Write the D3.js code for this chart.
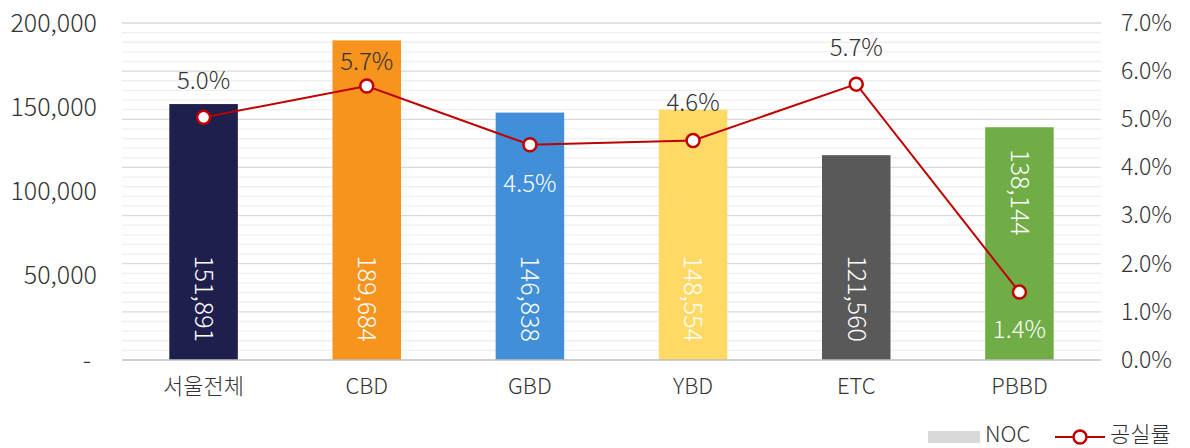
<!DOCTYPE html>
<html><head><meta charset="utf-8">
<script src="https://cdn.jsdelivr.net/npm/d3@7/dist/d3.min.js"></script>
<style>body{margin:0;background:#fff}svg{display:block}text{font-family:"Noto Sans CJK KR","Noto Sans",sans-serif;font-weight:200}</style>
</head><body><svg id="c" width="1190" height="448"></svg>
<script>
const categories = ["서울전체","CBD","GBD","YBD","ETC","PBBD"];
const noc = [151891,189684,146838,148554,121560,138144];
const vacancy = [5.04,5.69,4.47,4.56,5.73,1.41];
const barColors = ["#1f1f4e","#f7941d","#418fd9","#ffd966","#595959","#70ad47"];
const leftTicks = [0,50000,100000,150000,200000];
const rightTicks = [0,1,2,3,4,5,6,7];
const vacLabelOffset = [-37,-24,39,-38,-37,37];
const vacLabelWhite = [false,false,true,false,false,true];
const nocLabelPos = ["base","base","base","base","base","end"];

const svg = d3.select("#c");
const L=122,R=1101,T=23,B=360;
const x = d3.scaleBand().domain(categories).range([L,R]).paddingInner(0.58).paddingOuter(0.29);
const yL = d3.scaleLinear().domain([0,200000]).range([B,T]);
const yR = d3.scaleLinear().domain([0,7]).range([B,T]);
const txt="#333333";
const W=200;

// minor grid
const minor = d3.range(0,7.01,0.2).filter(v=>Math.abs(v-Math.round(v))>0.01);
svg.append("g").selectAll("line").data(minor).join("line")
 .attr("x1",L).attr("x2",R).attr("y1",d=>yR(d)).attr("y2",d=>yR(d))
 .attr("stroke","#efefef").attr("stroke-width",1.3);
svg.append("g").selectAll("line").data(rightTicks.slice(1)).join("line")
 .attr("x1",L).attr("x2",R).attr("y1",d=>yR(d)).attr("y2",d=>yR(d))
 .attr("stroke","#d9d9d9").attr("stroke-width",1.3);

// bars
svg.append("g").selectAll("rect").data(noc).join("rect")
 .attr("x",(d,i)=>x(categories[i])).attr("width",x.bandwidth())
 .attr("y",d=>yL(d)).attr("height",d=>B-yL(d)).attr("fill",(d,i)=>barColors[i]);

// baseline
svg.append("line").attr("x1",L).attr("x2",R).attr("y1",B).attr("y2",B).attr("stroke","#bfbfbf").attr("stroke-width",1.5);

// left axis
const gl = svg.append("g").attr("transform",`translate(${L-25},0)`)
 .call(d3.axisLeft(yL).tickValues(leftTicks).tickSize(0).tickPadding(0).tickFormat(d=>d===0?"-":d3.format(",")(d)));
gl.select(".domain").remove();
gl.selectAll("text").attr("font-size",25).attr("fill",txt).style("font-family",'"Noto Sans CJK KR"').style("font-weight",W);
gl.selectAll(".tick").filter(d=>d===0).select("text").attr("dx",-6);

// right axis
const gr = svg.append("g").attr("transform",`translate(${R+20},0)`)
 .call(d3.axisRight(yR).tickValues(rightTicks).tickSize(0).tickPadding(0).tickFormat(d=>d.toFixed(1)+"%"));
gr.select(".domain").remove();
gr.selectAll("text").attr("font-size",23).attr("fill",txt).style("font-family",'"Noto Sans CJK KR"').style("font-weight",W);

// x axis
const gx = svg.append("g").attr("transform",`translate(0,${B+14})`)
 .call(d3.axisBottom(x).tickSize(0).tickPadding(0));
gx.select(".domain").remove();
gx.selectAll("text").attr("font-size",22).attr("fill",txt).attr("dy","0.9em").style("font-family",'"Noto Sans CJK KR"').style("font-weight",W);

// bar value labels rotated
svg.append("g").selectAll("text").data(noc).join("text")
 .attr("transform",(d,i)=>{
   const cx = x(categories[i])+x.bandwidth()/2;
   const cy = nocLabelPos[i]==="base" ? B-18 : yL(d)+22;
   return `translate(${cx},${cy}) rotate(90)`;
 })
 .attr("text-anchor",(d,i)=>nocLabelPos[i]==="base"?"end":"start")
 .attr("dy","0.35em").attr("font-size",25).attr("fill","#fff")
 .text(d=>d3.format(",")(d));

// line
const cxs = categories.map(c=>x(c)+x.bandwidth()/2);
svg.append("path").datum(vacancy)
 .attr("d",d3.line().x((d,i)=>cxs[i]).y(d=>yR(d)))
 .attr("fill","none").attr("stroke","#c00000").attr("stroke-width",2);
svg.append("g").selectAll("circle").data(vacancy).join("circle")
 .attr("cx",(d,i)=>cxs[i]).attr("cy",d=>yR(d)).attr("r",6.5)
 .attr("fill","#fff").attr("stroke","#c00000").attr("stroke-width",2.5);

// vacancy labels
svg.append("g").selectAll("text").data(vacancy).join("text")
 .attr("x",(d,i)=>cxs[i])
 .attr("y",(d,i)=>yR(d)+vacLabelOffset[i])
 .attr("dy","0.35em").attr("text-anchor","middle").attr("font-size",24)
 .attr("fill",(d,i)=>vacLabelWhite[i]?"#fff":txt)
 .text(d=>d.toFixed(1)+"%");

// legend
const lg = svg.append("g");
lg.append("rect").attr("x",928).attr("y",431).attr("width",52).attr("height",12).attr("fill","#d9d9d9");
lg.append("text").attr("x",985).attr("y",434).attr("dy","0.35em").attr("font-size",22).attr("fill",txt).text("NOC");
lg.append("line").attr("x1",1055).attr("x2",1105).attr("y1",437).attr("y2",437).attr("stroke","#c00000").attr("stroke-width",2);
lg.append("circle").attr("cx",1080).attr("cy",437).attr("r",6.5).attr("fill","#fff").attr("stroke","#c00000").attr("stroke-width",2.5);
lg.append("text").attr("x",1110).attr("y",434).attr("dy","0.35em").attr("font-size",22).attr("fill",txt).text("공실률");
</script></body></html>
